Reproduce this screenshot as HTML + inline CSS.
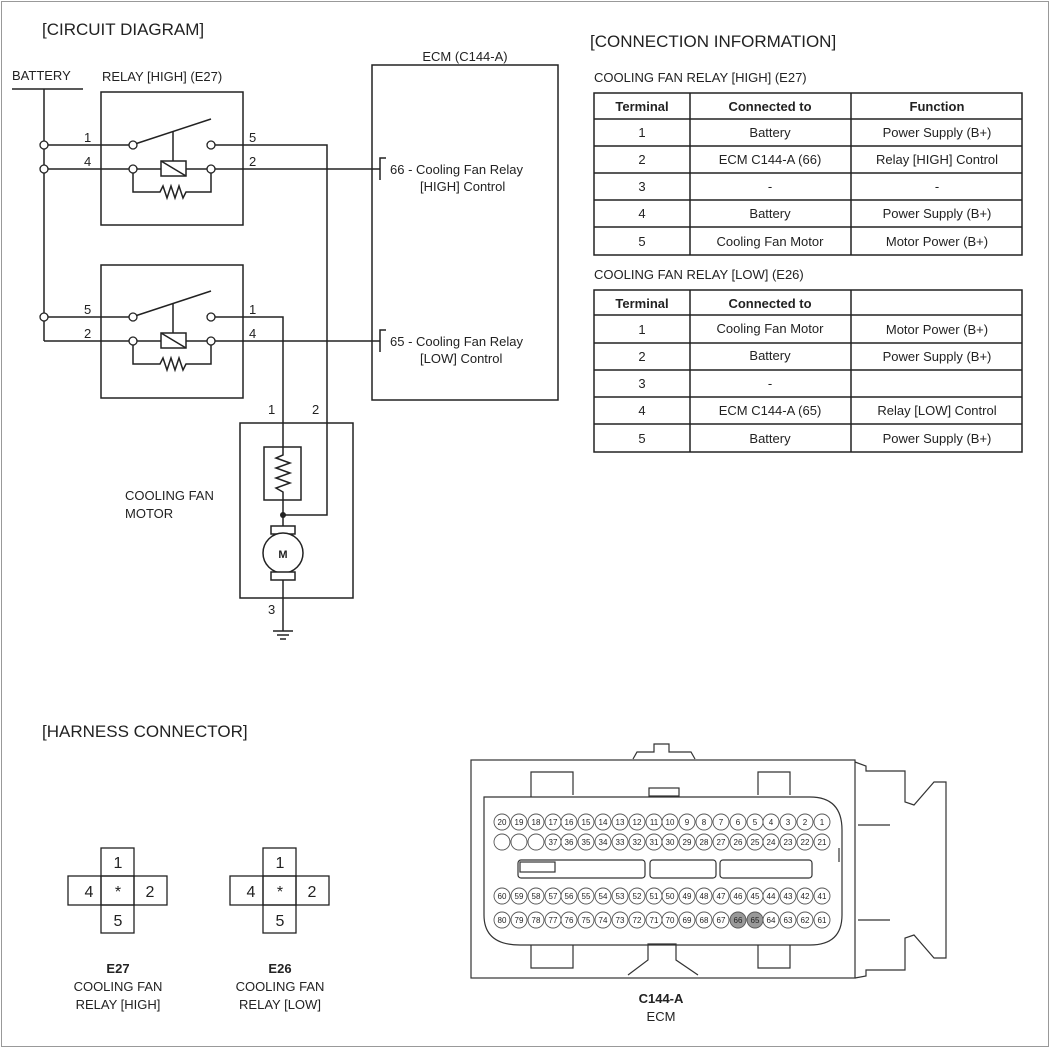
<!DOCTYPE html>
<html><head><meta charset="utf-8"><style>
html,body{margin:0;padding:0;background:#fff}
svg{display:block}
text{font-family:"Liberation Sans",sans-serif;fill:#222}
.t{font-size:13px}
.p text{font-size:8px;text-anchor:middle}
</style></head><body>
<svg width="1050" height="1048" viewBox="0 0 1050 1048" xmlns="http://www.w3.org/2000/svg">
<rect x="1.5" y="1.5" width="1047" height="1045" fill="#fff" stroke="#999" stroke-width="1"/>
<g fill="none" stroke="#222" stroke-width="1.5">
<line x1="12" y1="89" x2="83" y2="89"/>
<line x1="44" y1="89" x2="44" y2="341"/>
<rect x="101" y="92" width="142" height="133"/>
<line x1="44" y1="145" x2="130" y2="145"/>
<line x1="44" y1="169" x2="130" y2="169"/>
<line x1="135" y1="144" x2="211" y2="119"/>
<line x1="173" y1="132" x2="173" y2="161"/>
<rect x="161" y="161" width="25" height="15"/>
<line x1="161" y1="161" x2="186" y2="176"/>
<line x1="136" y1="169" x2="161" y2="169"/><line x1="186" y1="169" x2="208" y2="169"/>
<polyline points="133,172 133,192 160,192 163,186 167,198 171,186 175,198 179,186 183,198 186,192 211,192 211,172"/>
<polyline points="214,145 327,145 327,515 283,515"/>
<line x1="214" y1="169" x2="380" y2="169"/>
<rect x="101" y="265" width="142" height="133"/>
<line x1="44" y1="317" x2="130" y2="317"/>
<polyline points="44,341 130,341"/>
<line x1="135" y1="316" x2="211" y2="291"/>
<line x1="173" y1="304" x2="173" y2="333"/>
<rect x="161" y="333" width="25" height="15"/>
<line x1="161" y1="333" x2="186" y2="348"/>
<line x1="136" y1="341" x2="161" y2="341"/><line x1="186" y1="341" x2="208" y2="341"/>
<polyline points="133,344 133,364 160,364 163,358 167,370 171,358 175,370 179,358 183,370 186,364 211,364 211,344"/>
<polyline points="214,317 283,317 283,447"/>
<line x1="214" y1="341" x2="380" y2="341"/>
<rect x="372" y="65" width="186" height="335"/>
<polyline points="386,158 380,158 380,180"/>
<polyline points="386,330 380,330 380,352"/>
<rect x="240" y="423" width="113" height="175"/>
<rect x="264" y="447" width="37" height="53"/>
<polyline points="283,447 283,455 276,458 290,463 276,468 290,473 276,478 290,483 276,488 283,492 283,500"/>
<line x1="283" y1="500" x2="283" y2="526"/>
<rect x="271" y="526" width="24" height="8"/>
<circle cx="283" cy="553" r="20" fill="#fff"/>
<rect x="271" y="572" width="24" height="8" fill="#fff"/>
<line x1="283" y1="580" x2="283" y2="631"/>
<line x1="273" y1="631" x2="293" y2="631"/>
<line x1="277" y1="635" x2="289" y2="635"/>
<line x1="280" y1="639" x2="286" y2="639"/>
</g>
<g fill="#fff" stroke="#222" stroke-width="1.3">
<circle cx="44" cy="145" r="4"/><circle cx="44" cy="169" r="4"/><circle cx="44" cy="317" r="4"/>
<circle cx="133" cy="145" r="4"/><circle cx="211" cy="145" r="4"/><circle cx="133" cy="169" r="4"/><circle cx="211" cy="169" r="4"/>
<circle cx="133" cy="317" r="4"/><circle cx="211" cy="317" r="4"/><circle cx="133" cy="341" r="4"/><circle cx="211" cy="341" r="4"/>
</g>
<circle cx="283" cy="515" r="3" fill="#222"/>
<g class="t">
<text x="42" y="35" font-size="17">[CIRCUIT DIAGRAM]</text>
<text x="590" y="47" font-size="17">[CONNECTION INFORMATION]</text>
<text x="42" y="737" font-size="17">[HARNESS CONNECTOR]</text>
<text x="12" y="80">BATTERY</text>
<text x="102" y="81">RELAY [HIGH] (E27)</text>
<text x="465" y="61" text-anchor="middle">ECM (C144-A)</text>
<text x="84" y="142">1</text><text x="84" y="166">4</text>
<text x="249" y="142">5</text><text x="249" y="166">2</text>
<text x="84" y="314">5</text><text x="84" y="338">2</text>
<text x="249" y="314">1</text><text x="249" y="338">4</text>
<text x="390" y="174">66 - Cooling Fan Relay</text>
<text x="420" y="191">[HIGH] Control</text>
<text x="390" y="346">65 - Cooling Fan Relay</text>
<text x="420" y="363">[LOW] Control</text>
<text x="268" y="414">1</text><text x="312" y="414">2</text>
<text x="268" y="614">3</text>
<text x="125" y="500">COOLING FAN</text><text x="125" y="518">MOTOR</text>
<text x="283" y="558" text-anchor="middle" font-weight="bold" font-size="11">M</text>
<text x="594" y="82">COOLING FAN RELAY [HIGH] (E27)</text>
<text x="594" y="279">COOLING FAN RELAY [LOW] (E26)</text>
</g>
<g fill="none" stroke="#222" stroke-width="1.5">
<rect x="594" y="93" width="428" height="162"/>
<line x1="690" y1="93" x2="690" y2="255"/><line x1="851" y1="93" x2="851" y2="255"/>
<line x1="594" y1="119" x2="1022" y2="119"/><line x1="594" y1="146" x2="1022" y2="146"/><line x1="594" y1="173" x2="1022" y2="173"/><line x1="594" y1="200" x2="1022" y2="200"/><line x1="594" y1="227" x2="1022" y2="227"/>
<rect x="594" y="290" width="428" height="162"/>
<line x1="690" y1="290" x2="690" y2="452"/><line x1="851" y1="290" x2="851" y2="452"/>
<line x1="594" y1="315" x2="1022" y2="315"/><line x1="594" y1="343" x2="1022" y2="343"/><line x1="594" y1="370" x2="1022" y2="370"/><line x1="594" y1="397" x2="1022" y2="397"/><line x1="594" y1="424" x2="1022" y2="424"/>
</g>
<g class="t" text-anchor="middle">
<text x="642" y="111" font-weight="bold">Terminal</text><text x="770" y="111" font-weight="bold">Connected to</text><text x="937" y="111" font-weight="bold">Function</text>
<text x="642" y="137">1</text><text x="770" y="137">Battery</text><text x="937" y="137">Power Supply (B+)</text>
<text x="642" y="164">2</text><text x="770" y="164">ECM C144-A (66)</text><text x="937" y="164">Relay [HIGH] Control</text>
<text x="642" y="191">3</text><text x="770" y="191">-</text><text x="937" y="191">-</text>
<text x="642" y="218">4</text><text x="770" y="218">Battery</text><text x="937" y="218">Power Supply (B+)</text>
<text x="642" y="246">5</text><text x="770" y="246">Cooling Fan Motor</text><text x="937" y="246">Motor Power (B+)</text>
<text x="642" y="308" font-weight="bold">Terminal</text><text x="770" y="308" font-weight="bold">Connected to</text>
<text x="642" y="334">1</text><text x="770" y="333">Cooling Fan Motor</text><text x="937" y="334">Motor Power (B+)</text>
<text x="642" y="361">2</text><text x="770" y="360">Battery</text><text x="937" y="361">Power Supply (B+)</text>
<text x="642" y="388">3</text><text x="770" y="388">-</text>
<text x="642" y="415">4</text><text x="770" y="415">ECM C144-A (65)</text><text x="937" y="415">Relay [LOW] Control</text>
<text x="642" y="443">5</text><text x="770" y="443">Battery</text><text x="937" y="443">Power Supply (B+)</text>
</g>
<g fill="none" stroke="#222" stroke-width="1.3">
<rect x="101" y="848" width="33" height="28"/><rect x="68" y="876" width="33" height="29"/><rect x="101" y="876" width="33" height="29"/><rect x="134" y="876" width="33" height="29"/><rect x="101" y="905" width="33" height="28"/>
<rect x="263" y="848" width="33" height="28"/><rect x="230" y="876" width="33" height="29"/><rect x="263" y="876" width="33" height="29"/><rect x="296" y="876" width="33" height="29"/><rect x="263" y="905" width="33" height="28"/>
</g>
<g text-anchor="middle" font-size="16">
<text x="118" y="868">1</text><text x="89" y="897">4</text><text x="118" y="897">*</text><text x="150" y="897">2</text><text x="118" y="926">5</text>
<text x="280" y="868">1</text><text x="251" y="897">4</text><text x="280" y="897">*</text><text x="312" y="897">2</text><text x="280" y="926">5</text>
</g>
<g class="t" text-anchor="middle">
<text x="118" y="973" font-weight="bold">E27</text><text x="118" y="991">COOLING FAN</text><text x="118" y="1009">RELAY [HIGH]</text>
<text x="280" y="973" font-weight="bold">E26</text><text x="280" y="991">COOLING FAN</text><text x="280" y="1009">RELAY [LOW]</text>
<text x="661" y="1003" font-weight="bold">C144-A</text><text x="661" y="1021">ECM</text>
</g>
<g fill="none" stroke="#333" stroke-width="1.2">
<rect x="471" y="760" width="384" height="218"/>
<polyline points="633,759 637,752 654,752 654,744 669,744 669,752 691,752 695,759"/>
<polyline points="855,762 866,766 866,771 905,771 905,802 914,805 934,782 946,782 946,958 934,958 914,935 905,938 905,970 866,970 866,976 855,978"/>
<line x1="858" y1="825" x2="890" y2="825"/><line x1="858" y1="920" x2="890" y2="920"/>
<path d="M530,797 L484,797 Q484,797 484,830 L484,915 Q484,945 520,945 L810,945 Q842,945 842,915 L842,830 Q842,797 810,797 Z"/>
<polyline points="531,797 531,772 573,772 573,795"/>
<polyline points="758,795 758,772 790,772 790,795"/>
<rect x="649" y="788" width="30" height="8"/>
<polyline points="531,945 531,968 573,968 573,945"/>
<polyline points="758,945 758,968 790,968 790,945"/>
<polyline points="628,975 648,960 648,944 676,944 676,960 698,975"/>
<rect x="518" y="860" width="127" height="18" rx="3"/>
<rect x="520" y="862" width="35" height="10"/>
<rect x="650" y="860" width="66" height="18" rx="3"/>
<rect x="720" y="860" width="92" height="18" rx="3"/>
<line x1="839" y1="848" x2="839" y2="862"/>
</g>
<g class="p" fill="#fff" stroke="#555" stroke-width="0.9">
<g>
<circle cx="502" cy="822" r="8"/><circle cx="519" cy="822" r="8"/><circle cx="536" cy="822" r="8"/><circle cx="553" cy="822" r="8"/><circle cx="569" cy="822" r="8"/><circle cx="586" cy="822" r="8"/><circle cx="603" cy="822" r="8"/><circle cx="620" cy="822" r="8"/><circle cx="637" cy="822" r="8"/><circle cx="654" cy="822" r="8"/><circle cx="670" cy="822" r="8"/><circle cx="687" cy="822" r="8"/><circle cx="704" cy="822" r="8"/><circle cx="721" cy="822" r="8"/><circle cx="738" cy="822" r="8"/><circle cx="755" cy="822" r="8"/><circle cx="771" cy="822" r="8"/><circle cx="788" cy="822" r="8"/><circle cx="805" cy="822" r="8"/><circle cx="822" cy="822" r="8"/>
</g>
<g transform="translate(0,20)"><circle cx="502" cy="822" r="8"/><circle cx="519" cy="822" r="8"/><circle cx="536" cy="822" r="8"/><circle cx="553" cy="822" r="8"/><circle cx="569" cy="822" r="8"/><circle cx="586" cy="822" r="8"/><circle cx="603" cy="822" r="8"/><circle cx="620" cy="822" r="8"/><circle cx="637" cy="822" r="8"/><circle cx="654" cy="822" r="8"/><circle cx="670" cy="822" r="8"/><circle cx="687" cy="822" r="8"/><circle cx="704" cy="822" r="8"/><circle cx="721" cy="822" r="8"/><circle cx="738" cy="822" r="8"/><circle cx="755" cy="822" r="8"/><circle cx="771" cy="822" r="8"/><circle cx="788" cy="822" r="8"/><circle cx="805" cy="822" r="8"/><circle cx="822" cy="822" r="8"/></g>
<g transform="translate(0,74)"><circle cx="502" cy="822" r="8"/><circle cx="519" cy="822" r="8"/><circle cx="536" cy="822" r="8"/><circle cx="553" cy="822" r="8"/><circle cx="569" cy="822" r="8"/><circle cx="586" cy="822" r="8"/><circle cx="603" cy="822" r="8"/><circle cx="620" cy="822" r="8"/><circle cx="637" cy="822" r="8"/><circle cx="654" cy="822" r="8"/><circle cx="670" cy="822" r="8"/><circle cx="687" cy="822" r="8"/><circle cx="704" cy="822" r="8"/><circle cx="721" cy="822" r="8"/><circle cx="738" cy="822" r="8"/><circle cx="755" cy="822" r="8"/><circle cx="771" cy="822" r="8"/><circle cx="788" cy="822" r="8"/><circle cx="805" cy="822" r="8"/><circle cx="822" cy="822" r="8"/></g>
<g transform="translate(0,98)"><circle cx="502" cy="822" r="8"/><circle cx="519" cy="822" r="8"/><circle cx="536" cy="822" r="8"/><circle cx="553" cy="822" r="8"/><circle cx="569" cy="822" r="8"/><circle cx="586" cy="822" r="8"/><circle cx="603" cy="822" r="8"/><circle cx="620" cy="822" r="8"/><circle cx="637" cy="822" r="8"/><circle cx="654" cy="822" r="8"/><circle cx="670" cy="822" r="8"/><circle cx="687" cy="822" r="8"/><circle cx="704" cy="822" r="8"/><circle cx="721" cy="822" r="8"/><circle cx="738" cy="822" r="8" fill="#999"/><circle cx="755" cy="822" r="8" fill="#999"/><circle cx="771" cy="822" r="8"/><circle cx="788" cy="822" r="8"/><circle cx="805" cy="822" r="8"/><circle cx="822" cy="822" r="8"/></g>
</g>
<g class="p" fill="#333">
<g transform="translate(0,825)"><text x="502">20</text><text x="519">19</text><text x="536">18</text><text x="553">17</text><text x="569">16</text><text x="586">15</text><text x="603">14</text><text x="620">13</text><text x="637">12</text><text x="654">11</text><text x="670">10</text><text x="687">9</text><text x="704">8</text><text x="721">7</text><text x="738">6</text><text x="755">5</text><text x="771">4</text><text x="788">3</text><text x="805">2</text><text x="822">1</text></g>
<g transform="translate(0,845)"><text x="553">37</text><text x="569">36</text><text x="586">35</text><text x="603">34</text><text x="620">33</text><text x="637">32</text><text x="654">31</text><text x="670">30</text><text x="687">29</text><text x="704">28</text><text x="721">27</text><text x="738">26</text><text x="755">25</text><text x="771">24</text><text x="788">23</text><text x="805">22</text><text x="822">21</text></g>
<g transform="translate(0,899)"><text x="502">60</text><text x="519">59</text><text x="536">58</text><text x="553">57</text><text x="569">56</text><text x="586">55</text><text x="603">54</text><text x="620">53</text><text x="637">52</text><text x="654">51</text><text x="670">50</text><text x="687">49</text><text x="704">48</text><text x="721">47</text><text x="738">46</text><text x="755">45</text><text x="771">44</text><text x="788">43</text><text x="805">42</text><text x="822">41</text></g>
<g transform="translate(0,923)"><text x="502">80</text><text x="519">79</text><text x="536">78</text><text x="553">77</text><text x="569">76</text><text x="586">75</text><text x="603">74</text><text x="620">73</text><text x="637">72</text><text x="654">71</text><text x="670">70</text><text x="687">69</text><text x="704">68</text><text x="721">67</text><text x="738">66</text><text x="755">65</text><text x="771">64</text><text x="788">63</text><text x="805">62</text><text x="822">61</text></g>
</g>
</svg>
</body></html>
